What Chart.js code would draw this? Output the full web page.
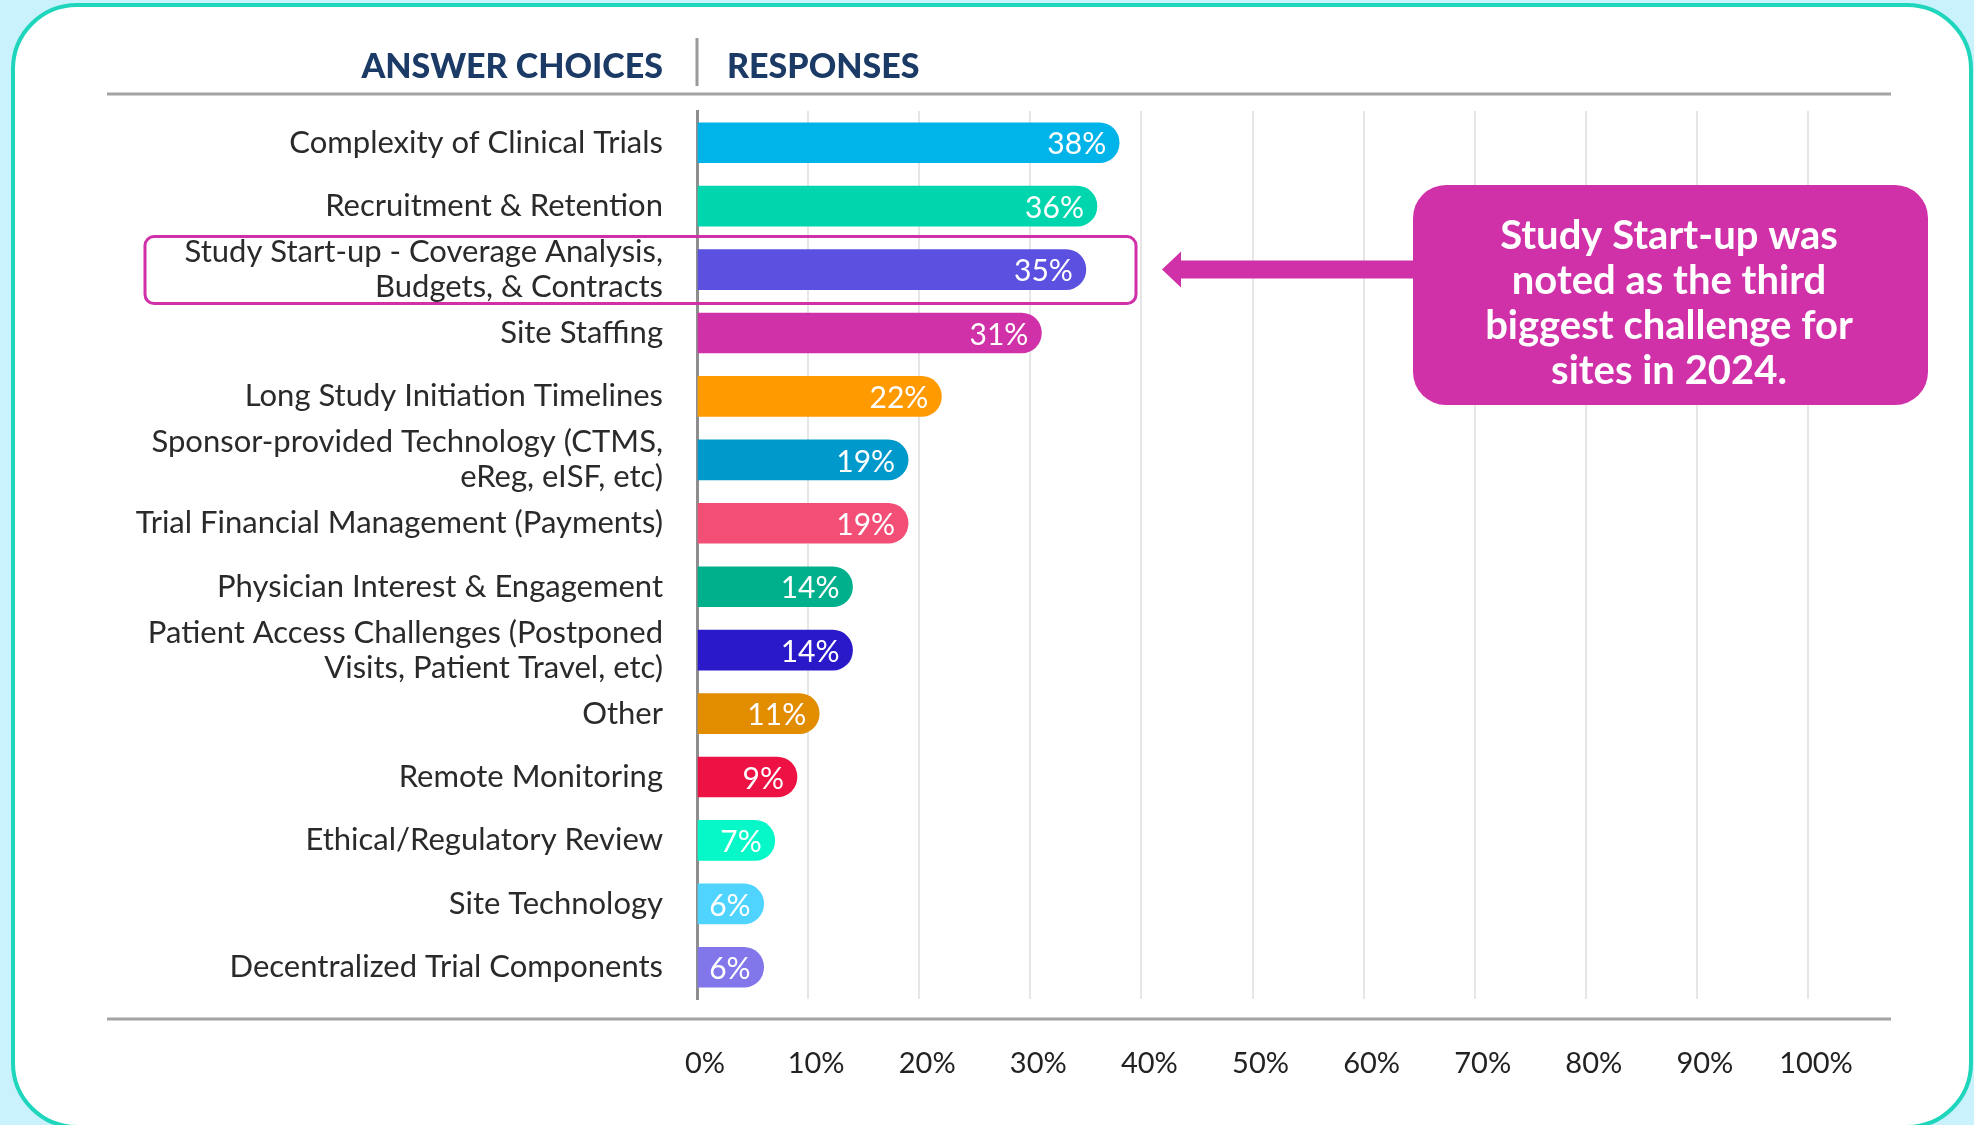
<!DOCTYPE html>
<html>
<head>
<meta charset="utf-8">
<script src="https://cdn.jsdelivr.net/npm/chart.js@4"></script>
<style>
  html, body { margin: 0; padding: 0; background: #c9f2fc; overflow: hidden; }
  #card {
    position: absolute; left: 11px; top: 3px; width: 1962px; height: 1126px;
    box-sizing: border-box; background: #fff;
    border: 4px solid #1fd6bc; border-radius: 66px;
  }
  #wrap { position: absolute; left: 0; top: 0; width: 1974px; height: 1125px; }
</style>
</head>
<body>
<div id="card"></div>
<div id="wrap"><canvas id="challengeChart"></canvas></div>
<script>
/* ---- data ---- */
const categories = [
  "Complexity of Clinical Trials",
  "Recruitment & Retention",
  ["Study Start-up - Coverage Analysis,", "Budgets, & Contracts"],
  "Site Staffing",
  "Long Study Initiation Timelines",
  ["Sponsor-provided Technology (CTMS,", "eReg, eISF, etc)"],
  "Trial Financial Management (Payments)",
  "Physician Interest & Engagement",
  ["Patient Access Challenges (Postponed", "Visits, Patient Travel, etc)"],
  "Other",
  "Remote Monitoring",
  "Ethical/Regulatory Review",
  "Site Technology",
  "Decentralized Trial Components"
];
const responses = [38, 36, 35, 31, 22, 19, 19, 14, 14, 11, 9, 7, 6, 6];
const barColors = [
  "#00b4ea", "#00d6ae", "#5b50e0", "#d031a8", "#ff9a00", "#0099cc", "#f24e76",
  "#00b08c", "#2a19c9", "#e28c00", "#ee1144", "#06f8c8", "#4fd4ff", "#8176ea"
];
const xTicks = [0, 10, 20, 30, 40, 50, 60, 70, 80, 90, 100];
const headers = ["ANSWER CHOICES", "RESPONSES"];
const calloutLines = ["Study Start-up was", "noted as the third", "biggest challenge for", "sites in 2024."];
const highlightIndex = 2;

const FONT = "Lato, 'Open Sans', sans-serif";
const MAGENTA = "#d030a8";

function roundRect(ctx, x, y, w, h, r) {
  ctx.beginPath();
  ctx.moveTo(x + r, y);
  ctx.arcTo(x + w, y, x + w, y + h, r);
  ctx.arcTo(x + w, y + h, x, y + h, r);
  ctx.arcTo(x, y + h, x, y, r);
  ctx.arcTo(x, y, x + w, y, r);
  ctx.closePath();
}

/* ---- headers, value labels, callout ---- */
const decor = {
  id: "decor",
  beforeDraw(chart) {
    const ctx = chart.ctx;
    const left = chart.chartArea.left;
    ctx.save();
    ctx.strokeStyle = "#a3a3a3";
    ctx.lineWidth = 3;
    ctx.beginPath();
    ctx.moveTo(107, 94); ctx.lineTo(1891, 94);
    ctx.moveTo(107, 1019); ctx.lineTo(1891, 1019);
    ctx.stroke();
    ctx.strokeStyle = "#999";
    ctx.beginPath();
    ctx.moveTo(left, 38); ctx.lineTo(left, 86);
    ctx.stroke();
    ctx.fillStyle = "#1b3a66";
    ctx.font = "900 34px " + FONT;
    ctx.textBaseline = "alphabetic";
    ctx.textAlign = "right";
    ctx.fillText(headers[0], left - 34, 78);
    ctx.textAlign = "left";
    ctx.fillText(headers[1], left + 30, 78);
    ctx.restore();
  },
  afterDatasetsDraw(chart) {
    const ctx = chart.ctx;
    const meta = chart.getDatasetMeta(0);
    ctx.save();
    ctx.fillStyle = "#fff";
    ctx.font = "30px " + FONT;
    ctx.textAlign = "right";
    ctx.textBaseline = "middle";
    meta.data.forEach((bar, i) => {
      ctx.fillText(responses[i] + "%", bar.x - 13, bar.y + 2);
    });
    ctx.restore();
  },
  afterDraw(chart) {
    const ctx = chart.ctx;
    const cy = chart.scales.y.getPixelForValue(highlightIndex);
    ctx.save();
    // highlight frame
    ctx.strokeStyle = MAGENTA;
    ctx.lineWidth = 3;
    roundRect(ctx, 145, cy - 33, 991, 67, 9);
    ctx.stroke();
    // arrow
    ctx.fillStyle = MAGENTA;
    ctx.beginPath();
    ctx.moveTo(1162, cy);
    ctx.lineTo(1181, cy - 18);
    ctx.lineTo(1181, cy - 9);
    ctx.lineTo(1420, cy - 9);
    ctx.lineTo(1420, cy + 9);
    ctx.lineTo(1181, cy + 9);
    ctx.lineTo(1181, cy + 18);
    ctx.closePath();
    ctx.fill();
    // callout box
    roundRect(ctx, 1413, 185, 515, 220, 33);
    ctx.fill();
    ctx.fillStyle = "#fff";
    ctx.font = "bold 40px " + FONT;
    ctx.textAlign = "center";
    ctx.textBaseline = "alphabetic";
    calloutLines.forEach((line, i) => {
      ctx.fillText(line, 1669, 249 + i * 45);
    });
    ctx.restore();
  }
};

new Chart(document.getElementById("challengeChart"), {
  type: "bar",
  data: {
    labels: categories,
    datasets: [{
      label: "Responses",
      data: responses,
      backgroundColor: barColors,
      barThickness: 40,
      borderRadius: 20,
      borderSkipped: "start"
    }]
  },
  options: {
    indexAxis: "y",
    responsive: true,
    maintainAspectRatio: false,
    animation: false,
    layout: { padding: { top: 111, right: 166, bottom: 0, left: 0 } },
    plugins: {
      legend: { display: false },
      tooltip: { enabled: false }
    },
    scales: {
      x: {
        min: 0,
        max: 100,
        afterBuildTicks(scale) {
          scale.ticks = xTicks.map(v => ({ value: v }));
        },
        afterFit(scale) { scale.height = 126; },
        ticks: {
          callback: v => v + "%",
          color: "#222",
          font: { family: FONT, size: 29 },
          padding: 47,
          labelOffset: 8,
          maxRotation: 0
        },
        grid: { color: "#e6e6e6", lineWidth: 2, drawTicks: false },
        border: { display: false }
      },
      y: {
        afterFit(scale) { scale.width = 697; },
        ticks: {
          autoSkip: false,
          color: "#2a2a2a",
          font: { family: FONT, size: 31, lineHeight: 1.12 },
          padding: 26
        },
        grid: { display: false },
        border: { color: "#8e8e8e", width: 3 }
      }
    }
  },
  plugins: [decor]
});
</script>
</body>
</html>
